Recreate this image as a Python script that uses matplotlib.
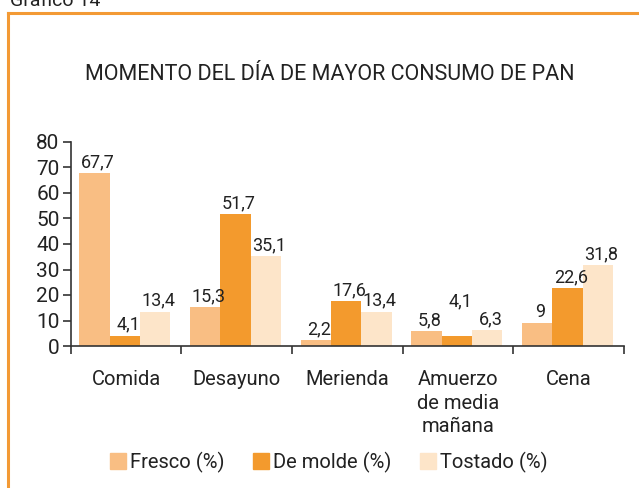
import numpy as np
import matplotlib
matplotlib.use("Agg")
import matplotlib.pyplot as plt
from matplotlib.patches import Rectangle

categories = ["Comida", "Desayuno", "Merienda", "Amuerzo\nde media\nmañana", "Cena"]
fresco = [67.7, 15.3, 2.2, 5.8, 9]
molde = [4.1, 51.7, 17.6, 4.1, 22.6]
tostado = [13.4, 35.1, 13.4, 6.3, 31.8]
series_names = ["Fresco (%)", "De molde (%)", "Tostado (%)"]
colors = ["#F9BE83", "#F39A2D", "#FDE5C9"]

plt.rcParams["font.family"] = ["Roboto", "DejaVu Sans"]

fig = plt.figure(figsize=(6.39, 4.88), dpi=100)
ax = fig.add_axes([70.7 / 639, 1 - 346 / 488, (624 - 70.7) / 639, (346 - 142) / 488])

def fmt(v):
    s = ("%g" % v).replace(".", ",")
    return s

x = np.arange(len(categories))
w = 0.274
series = [fresco, molde, tostado]
for i, (vals, c) in enumerate(zip(series, colors)):
    pos = x + (i - 1) * w - 0.01
    ax.bar(pos, vals, width=w, color=c, edgecolor="none")
    for j, (p, v) in enumerate(zip(pos, vals)):
        dy = 0.8
        if i == 1 and j == 3:
            dy = 10
        ax.text(p + 0.03, v + dy, fmt(v), ha="center", va="bottom", fontsize=13, color="#222222")

ax.set_xlim(-0.5, len(categories) - 0.5)
ax.set_ylim(0, 80)
ax.set_yticks(range(0, 81, 10))
ax.tick_params(axis="y", labelsize=15, length=6, width=1.2, color="#333333", labelcolor="#222222", pad=2)
ax.set_xticks(np.arange(len(categories) + 1) - 0.5)
ax.set_xticklabels([])
ax.tick_params(axis="x", length=6, width=1.2, color="#333333")
for k, c in enumerate(categories):
    ax.text(k, -9.5, c, ha="center", va="top", fontsize=14.5, color="#222222", linespacing=1.3)

for s in ["top", "right"]:
    ax.spines[s].set_visible(False)
for s in ["left", "bottom"]:
    ax.spines[s].set_color("#333333")
    ax.spines[s].set_linewidth(1.2)

fig.text(330 / 639, 1 - 75 / 488, "MOMENTO DEL DÍA DE MAYOR CONSUMO DE PAN", ha="center", va="center",
         fontsize=15.5, color="#222222")

handles = [Rectangle((0, 0), 1, 1, color=c) for c in colors]
fig.legend(handles, series_names, loc="center", bbox_to_anchor=(329 / 639, 1 - 462 / 488),
           ncol=3, frameon=False, fontsize=14.5, handlelength=0.8, handleheight=0.8,
           handletextpad=0.2, columnspacing=1.4, labelcolor="#222222")

# frame and clipped caption
fig.add_artist(plt.Line2D([7.5 / 639, 7.5 / 639], [0, 1 - 12.5 / 488], color="#F39A35", lw=2.2,
                          transform=fig.transFigure))
fig.add_artist(plt.Line2D([7.5 / 639, 1], [1 - 12.5 / 488, 1 - 12.5 / 488], color="#F39A35", lw=2.2,
                          transform=fig.transFigure))
fig.text(10 / 639, 1 - 1 / 488, "Gráfico 14", ha="left", va="center", fontsize=14, color="#222222")

fig.savefig("out.png", dpi=100)
